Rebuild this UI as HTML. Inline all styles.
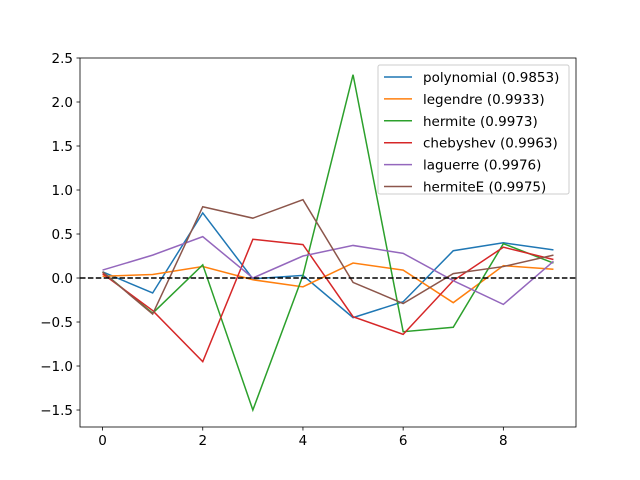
<!DOCTYPE html>
<html><head><meta charset="utf-8"><style>body{margin:0;background:#fff}svg{display:block;font-family:"DejaVu Sans","Liberation Sans",sans-serif}</style></head>
<body>
<svg id="chart" width="640" height="480"></svg>
<script>
const categories=[0,1,2,3,4,5,6,7,8,9];
const seriesNames=["polynomial (0.9853)","legendre (0.9933)","hermite (0.9973)","chebyshev (0.9963)","laguerre (0.9976)","hermiteE (0.9975)"];
const polynomial=[0.07,-0.17,0.74,-0.01,0.03,-0.45,-0.27,0.31,0.40,0.32];
const legendre=[0.02,0.04,0.13,-0.02,-0.10,0.17,0.09,-0.28,0.14,0.10];
const hermite=[0.07,-0.40,0.15,-1.50,0.03,2.31,-0.61,-0.56,0.39,0.17];
const chebyshev=[0.05,-0.37,-0.95,0.44,0.38,-0.44,-0.64,-0.03,0.35,0.21];
const laguerre=[0.09,0.26,0.47,0.00,0.25,0.37,0.28,-0.03,-0.30,0.19];
const hermiteE=[0.07,-0.41,0.81,0.68,0.89,-0.05,-0.29,0.05,0.13,0.26];
const xTicks=[0,2,4,6,8];
const yTicks=[-1.5,-1.0,-0.5,0.0,0.5,1.0,1.5,2.0,2.5];
const colors=["#1f77b4","#ff7f0e","#2ca02c","#d62728","#9467bd","#8c564b"];
const allSeries=[polynomial,legendre,hermite,chebyshev,laguerre,hermiteE];
const L=80,R=576,T=58,B=427,xmin=-0.45,xmax=9.45,ymin=-1.693,ymax=2.5;
const sx=v=>L+(v-xmin)/(xmax-xmin)*(R-L);
const sy=v=>B-(v-ymin)/(ymax-ymin)*(B-T);
const svg=document.getElementById('chart');const NS="http://www.w3.org/2000/svg";
function mk(t,a,p){const e=document.createElementNS(NS,t);for(const k in a)e.setAttribute(k,a[k]);(p||svg).appendChild(e);return e;}
allSeries.forEach((s,i)=>{
 const pl=mk('polyline',{points:s.map((v,j)=>sx(categories[j])+','+sy(v)).join(' '),fill:'none',stroke:colors[i],'stroke-width':1.5});
 
 
});
const zl=mk('line',{x1:L,x2:R,y1:sy(0),y2:sy(0),stroke:'#000','stroke-width':1.5,'stroke-dasharray':'5.5,2.4'});


const fr=mk('rect',{x:L,y:T,width:R-L,height:B-T,fill:'none',stroke:'#000','stroke-width':0.8});


xTicks.forEach(v=>{const x=sx(v);mk('line',{x1:x,x2:x,y1:B,y2:B+3.5,stroke:'#000','stroke-width':0.8});
 const t=mk('text',{x:x,y:B+18,'text-anchor':'middle','font-size':13.5});t.textContent=v;
 
 });
yTicks.forEach(v=>{const y=sy(v);mk('line',{x1:L-3.5,x2:L,y1:y,y2:y,stroke:'#000','stroke-width':0.8});
 const t=mk('text',{x:L-7,y:y+5,'text-anchor':'end','font-size':13.5});t.textContent=(v<0?'\u2212':'')+Math.abs(v).toFixed(1);
 
 });
const lg=mk('g',{});


mk('rect',{x:378,y:65,width:191,height:129,rx:2,fill:'#fff','fill-opacity':0.8,stroke:'#ccc'},lg);
seriesNames.forEach((n,i)=>{const y=77+i*21.9;
 mk('line',{x1:384,x2:412,y1:y,y2:y,stroke:colors[i],'stroke-width':1.5},lg);
 const t=mk('text',{x:423,y:y+5,'font-size':13.5},lg);t.textContent=n;
 
 });
</script>
</body></html>
